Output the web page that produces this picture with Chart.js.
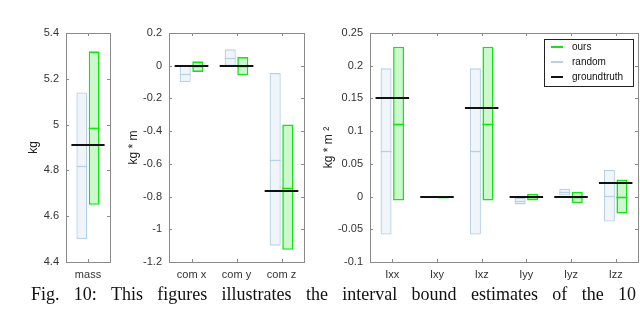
<!DOCTYPE html>
<html>
<head>
<meta charset="utf-8">
<script src="https://cdn.jsdelivr.net/npm/chart.js@4.4.1/dist/chart.umd.min.js"></script>
<style>
  body { margin: 0; background: #fff; width: 640px; height: 310px; overflow: hidden; position: relative; }
  canvas { position: absolute; top: 0; }
  #caption {
    position: absolute; left: 31px; width: 605px; top: 284px;
    font-family: "Liberation Serif", "DejaVu Serif", serif; font-size: 18px; color: #111;
    text-align: justify; text-align-last: justify; white-space: nowrap; word-spacing: 4px;
  }
</style>
</head>
<body>
<canvas id="massChart"></canvas>
<canvas id="comChart"></canvas>
<canvas id="inertiaChart"></canvas>
<div id="caption">Fig. 10: This figures illustrates the interval bound estimates of the 10</div>

<script>
// ---- data ----
const massCats = ['mass']
const massRandLow = [4.50]
const massRandHigh = [5.14]
const massRandMed = [4.82]
const massOursLow = [4.65]
const massOursHigh = [5.32]
const massOursMed = [4.985]
const massTruth = [4.91]
const massTicks = [4.4, 4.6, 4.8, 5, 5.2, 5.4]

const comCats = ['com x', 'com y', 'com z']
const comRandLow = [-0.10, 0.0, -1.10]
const comRandHigh = [0.0, 0.10, -0.045]
const comRandMed = [-0.05, 0.05, -0.574]
const comOursLow = [-0.038, -0.059, -1.125]
const comOursHigh = [0.027, 0.053, -0.36]
const comOursMed = [-0.004, 0.0, -0.747]
const comTruth = [0, 0, -0.765]
const comTicks = [-1.2, -1, -0.8, -0.6, -0.4, -0.2, 0, 0.2]

const inerCats = ['Ixx', 'Ixy', 'Ixz', 'Iyy', 'Iyz', 'Izz']
const inerRandLow = [-0.058, -0.001, -0.058, -0.012, 0.0015, -0.038]
const inerRandHigh = [0.196, 0.001, 0.196, -0.002, 0.012, 0.041]
const inerRandMed = [0.069, 0, 0.069, -0.007, 0.0067, 0.001]
const inerOursLow = [-0.006, -0.0006, -0.006, -0.006, -0.010, -0.026]
const inerOursHigh = [0.229, 0.0006, 0.229, 0.004, 0.007, 0.026]
const inerOursMed = [0.111, 0, 0.111, -0.001, 0, -0.001]
const inerTruth = [0.15, 0, 0.136, 0, 0, 0.02]
const inerTicks = [-0.1, -0.05, 0, 0.05, 0.1, 0.15, 0.2, 0.25]

const legendNames = ['ours', 'random', 'groundtruth']

// ---- styles ----
const RAND_EDGE = '#b7d2e6'
const RAND_FILL = '#f0f5fa'
const OURS_EDGE = '#12e612'
const OURS_FILL = '#cdf7cd'
const TRUTH = '#111111'
const FRAME = '#8a8a8a'
const SANS = '"Liberation Sans", Arial, sans-serif'

const pairs = (lo, hi) => lo.map((v, i) => [v, hi[i]])
const fmt = v => String(+(+v).toFixed(4))

const boxPlugin = {
  id: 'boxExtras',
  afterDatasetsDraw(chart, args, opts) {
    const ctx = chart.ctx
    const area = chart.chartArea
    const y = chart.scales.y
    const x = chart.scales.x
    const randMeta = chart.getDatasetMeta(0)
    const oursMeta = chart.getDatasetMeta(1)
    ctx.save()
    // medians
    chart.data.datasets.forEach((ds, di) => {
      const meta = chart.getDatasetMeta(di)
      meta.data.forEach((bar, i) => {
        const py = Math.round(y.getPixelForValue(ds.medians[i])) + 0.5
        ctx.strokeStyle = ds.borderColor
        ctx.lineWidth = ds.borderWidth
        ctx.beginPath()
        ctx.moveTo(bar.x - bar.width / 2, py)
        ctx.lineTo(bar.x + bar.width / 2, py)
        ctx.stroke()
      })
    })
    // groundtruth
    ctx.strokeStyle = TRUTH
    ctx.lineWidth = 2
    opts.truth.forEach((t, i) => {
      const r = randMeta.data[i], o = oursMeta.data[i]
      const py = Math.round(y.getPixelForValue(t))
      ctx.beginPath()
      ctx.moveTo(r.x - r.width / 2 - 5, py)
      ctx.lineTo(o.x + o.width / 2 + 5, py)
      ctx.stroke()
    })
    // frame + inward ticks
    ctx.strokeStyle = FRAME
    ctx.lineWidth = 1
    ctx.strokeRect(Math.round(area.left) + 0.5, Math.round(area.top) + 0.5,
      Math.round(area.width), Math.round(area.height))
    ctx.beginPath()
    y.ticks.forEach((t, i) => {
      const py = Math.round(y.getPixelForTick(i)) + 0.5
      ctx.moveTo(area.left, py); ctx.lineTo(area.left + 3, py)
      ctx.moveTo(area.right, py); ctx.lineTo(area.right - 3, py)
    })
    x.ticks.forEach((t, i) => {
      const px = Math.round(x.getPixelForTick(i)) + 0.5
      ctx.moveTo(px, area.bottom); ctx.lineTo(px, area.bottom - 3)
      ctx.moveTo(px, area.top); ctx.lineTo(px, area.top + 3)
    })
    ctx.stroke()
    // legend inside the plot
    if (opts.legend) {
      const bw = 89, bh = 47
      const lx = Math.round(area.right) - 5 - bw, ly = Math.round(area.top) + 6
      ctx.fillStyle = '#fff'
      ctx.fillRect(lx, ly, bw, bh)
      ctx.strokeStyle = '#222'
      ctx.strokeRect(lx + 0.5, ly + 0.5, bw, bh)
      const cols = [OURS_EDGE, RAND_EDGE, TRUTH]
      ctx.font = '10px ' + SANS
      ctx.textBaseline = 'middle'
      legendNames.forEach((name, i) => {
        const ry = ly + 8 + i * 15
        ctx.strokeStyle = cols[i]
        ctx.lineWidth = 2
        ctx.beginPath()
        ctx.moveTo(lx + 7, ry); ctx.lineTo(lx + 19, ry)
        ctx.stroke()
        ctx.fillStyle = '#111'
        ctx.fillText(name, lx + 28, ry)
      })
    }
    ctx.restore()
  }
}

function makeChart(id, geo, cats, rLo, rHi, rMed, oLo, oHi, oMed, truth, ticks, title, legend) {
  const cv = document.getElementById(id)
  cv.style.left = geo.left + 'px'
  cv.width = geo.width
  cv.height = 310
  return new Chart(cv, {
    type: 'bar',
    data: {
      labels: cats,
      datasets: [
        { label: 'random', data: pairs(rLo, rHi), medians: rMed,
          backgroundColor: RAND_FILL, borderColor: RAND_EDGE, borderWidth: 1.3, borderSkipped: false },
        { label: 'ours', data: pairs(oLo, oHi), medians: oMed,
          backgroundColor: OURS_FILL, borderColor: OURS_EDGE, borderWidth: 1.6, borderSkipped: false }
      ]
    },
    options: {
      responsive: false,
      devicePixelRatio: 1,
      animation: false,
      categoryPercentage: 0.56,
      barPercentage: 0.88,
      layout: { padding: { top: 33, right: geo.padRight, bottom: 26, left: 0 } },
      plugins: {
        legend: { display: false },
        tooltip: { enabled: false },
        boxExtras: { truth: truth, legend: legend }
      },
      scales: {
        x: {
          grid: { display: false, drawTicks: false },
          border: { display: false },
          ticks: { padding: 6, color: '#333', font: { family: SANS, size: 11 } },
          afterFit: s => { s.height = 22 }
        },
        y: {
          min: ticks[0],
          max: ticks[ticks.length - 1],
          grid: { display: false, drawTicks: false },
          border: { display: false },
          afterBuildTicks: s => { s.ticks = ticks.map(v => ({ value: v })) },
          ticks: { padding: 7, color: '#333', callback: fmt, font: { family: SANS, size: 11 } },
          title: { display: true, text: title, color: '#222', padding: { top: geo.titlePad, bottom: 0 },
            font: { family: SANS, size: 12 } },
          afterFit: s => { s.width = geo.yWidth }
        }
      }
    },
    plugins: [boxPlugin]
  })
}

makeChart('massChart', { left: 0, width: 116, yWidth: 66, padRight: 6, titlePad: 26 },
  massCats, massRandLow, massRandHigh, massRandMed, massOursLow, massOursHigh, massOursMed,
  massTruth, massTicks, 'kg', false)

makeChart('comChart', { left: 118, width: 190, yWidth: 51, padRight: 4, titlePad: 8 },
  comCats, comRandLow, comRandHigh, comRandMed, comOursLow, comOursHigh, comOursMed,
  comTruth, comTicks, 'kg * m', false)

makeChart('inertiaChart', { left: 312, width: 328, yWidth: 58, padRight: 2, titlePad: 9 },
  inerCats, inerRandLow, inerRandHigh, inerRandMed, inerOursLow, inerOursHigh, inerOursMed,
  inerTruth, inerTicks, 'kg * m \u00b2', true)
</script>
</body>
</html>
